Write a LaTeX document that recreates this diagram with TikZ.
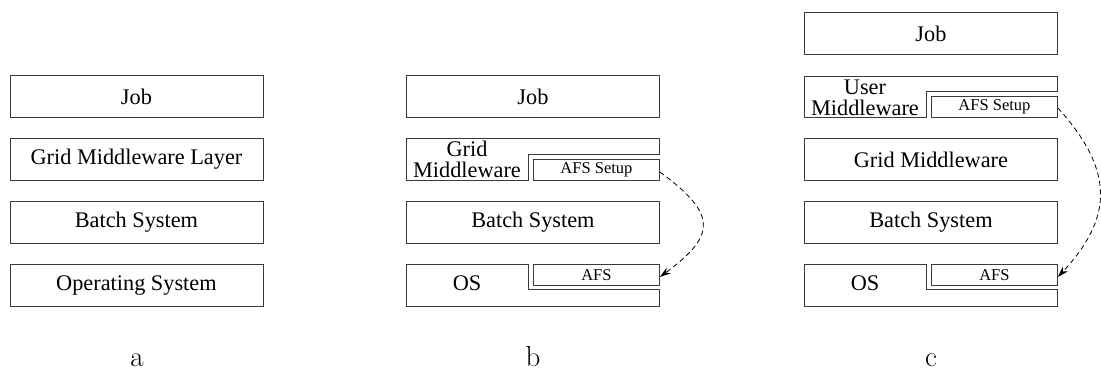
\documentclass[tikz,border=0pt]{standalone}
\usepackage{fontspec}
\newfontfamily\boxfont{Liberation Serif}
\usetikzlibrary{arrows.meta}
\definecolor{edge}{HTML}{3A3A3A}

\tikzset{
  layer/.style={draw=edge, line width=0.9pt, minimum width=253pt, minimum height=42pt,
    inner sep=0pt, anchor=north west, font=\boxfont\fontsize{22.3}{21}\selectfont},
  subbox/.style={draw=edge, line width=0.9pt, minimum width=126pt, minimum height=21pt,
    inner sep=0pt, anchor=north west, font=\boxfont\fontsize{16.5}{18}\selectfont},
  outline/.style={draw=edge, line width=0.9pt, line join=miter},
  layertext/.style={inner sep=0pt, font=\boxfont\fontsize{22.3}{21}\selectfont},
  twoline/.style={inner sep=0pt, align=center, anchor=base,
    font=\boxfont\fontsize{22.3}{21}\selectfont},
  panel/.style={inner sep=0pt, anchor=base, font=\fontsize{29}{30}\selectfont},
  flow/.style={draw=black, line width=0.8pt, dash pattern=on 5pt off 3.5pt,
    -{Stealth[length=11pt,width=7pt]}}
}

\begin{document}
\begin{tikzpicture}[x=1pt,y=-1pt]
\useasboundingbox (0,0) rectangle (1101,370);

% ---------- panel a ----------
\node[layer] (aJob)   at (9.5,75)  {Job};
\node[layer] (aGrid)  at (9.5,138) {Grid Middleware Layer};
\node[layer] (aBatch) at (9.5,201) {Batch System};
\node[layer] (aOS)    at (9.5,264) {Operating System};
\node[panel] (la) at (137,366) {a};

% ---------- panel b ----------
\node[layer] (bJob)   at (406,75)  {Job};
% grid middleware with a notch holding the AFS setup
\draw[outline] (406,138) -- (659,138) -- (659,154) -- (528,154) -- (528,180) -- (406,180) -- cycle;
\node[twoline] (bGridTxt) at (467,177) {Grid\\Middleware};
\node[subbox] (bSetup) at (533,159) {AFS Setup};
\node[layer] (bBatch) at (406,201) {Batch System};
% operating system with AFS on top
\draw[outline] (406,264) -- (528,264) -- (528,289) -- (659,289) -- (659,306) -- (406,306) -- cycle;
\node[layertext] (bOSTxt) at (467,283) {OS};
\node[subbox] (bAFS) at (533,264) {AFS};
\draw[flow] ([yshift=-2pt]bSetup.east) .. controls +(57,42) and +(57,-42) .. ([yshift=-2pt]bAFS.east);
\node[panel] (lb) at (533,366) {b};

% ---------- panel c ----------
\node[layer] (cJob)   at (804,12)  {Job};
% user middleware with a notch holding the AFS setup
\draw[outline] (804,76) -- (1057,76) -- (1057,91) -- (926,91) -- (926,117) -- (804,117) -- cycle;
\node[twoline] (cUserTxt) at (865,115) {User\\Middleware};
\node[subbox] (cSetup) at (931,96) {AFS Setup};
\node[layer] (cGrid)  at (804,138) {Grid Middleware};
\node[layer] (cBatch) at (804,201) {Batch System};
\draw[outline] (804,264) -- (926,264) -- (926,289) -- (1057,289) -- (1057,306) -- (804,306) -- cycle;
\node[layertext] (cOSTxt) at (865,283) {OS};
\node[subbox] (cAFS) at (931,264) {AFS};
\draw[flow] ([yshift=-1pt]cSetup.east) .. controls +(56,62) and +(56,-60) .. ([yshift=-2pt]cAFS.east);
\node[panel] (lc) at (931,366) {c};
\end{tikzpicture}
\end{document}
